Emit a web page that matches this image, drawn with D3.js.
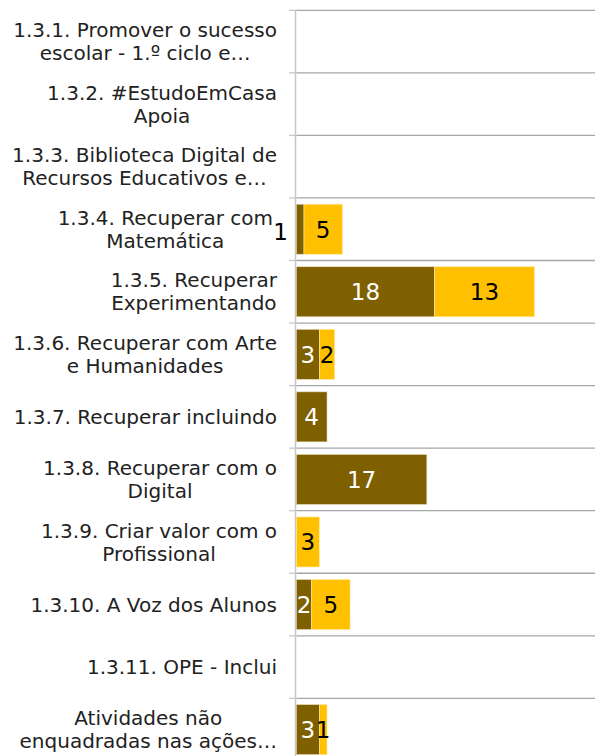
<!DOCTYPE html>
<html><head><meta charset="utf-8">
<script src="https://cdn.jsdelivr.net/npm/d3@7"></script>
<style>body{margin:0;background:#fff}svg{display:block}</style>
</head><body>
<script>
const categories = [
  "1.3.1. Promover o sucesso\nescolar - 1.º ciclo e…",
  "1.3.2. #EstudoEmCasa\nApoia",
  "1.3.3. Biblioteca Digital de\nRecursos Educativos e…",
  "1.3.4. Recuperar com\nMatemática",
  "1.3.5. Recuperar\nExperimentando",
  "1.3.6. Recuperar com Arte\ne Humanidades",
  "1.3.7. Recuperar incluindo",
  "1.3.8. Recuperar com o\nDigital",
  "1.3.9. Criar valor com o\nProfissional",
  "1.3.10. A Voz dos Alunos",
  "1.3.11. OPE - Inclui",
  "Atividades não\nenquadradas nas ações…"
];
const seriesA = [0,0,0,1,18,3,4,17,0,2,0,3];
const seriesB = [0,0,0,5,13,2,0,0,3,5,0,1];
const xMax = 40;

(function(){
const W = 595, H = 756;
const svg = d3.select("body").append("svg").attr("width", W).attr("height", H);
const font = "'DejaVu Sans', sans-serif";

const x0 = 296.3, topY = 10.3, band = 62.55;
const x = d3.scaleLinear().domain([0, xMax]).range([x0, x0 + 7.68 * xMax]);
const y = d3.scaleBand().domain(d3.range(categories.length))
  .range([topY, topY + band * categories.length]).paddingInner(0.2).paddingOuter(0.1);

const seps = d3.range(categories.length + 1).map(i => topY + i * band);
svg.append("g").selectAll("line").data(seps).join("line")
  .attr("x1", x0).attr("x2", W).attr("y1", d => d).attr("y2", d => d)
  .attr("stroke", "#a6a6a6").attr("stroke-width", 1.3);
svg.append("g").selectAll("line").data(seps).join("line")
  .attr("x1", 289).attr("x2", x0).attr("y1", d => d).attr("y2", d => d)
  .attr("stroke", "#c8c8c8").attr("stroke-width", 1.3);
svg.append("line").attr("x1", x0 - 0.8).attr("x2", x0 - 0.8).attr("y1", topY).attr("y2", H)
  .attr("stroke", "#c8c8c8").attr("stroke-width", 1.6);

const stacked = categories.map((c, i) => ({i, a: seriesA[i], b: seriesB[i]}));
const g = svg.append("g");
const vfs = 23;
stacked.forEach(d => {
  const yy = y(d.i), h = y.bandwidth();
  if (d.a > 0) {
    g.append("rect").attr("x", x(0)).attr("y", yy).attr("width", x(d.a) - x(0)).attr("height", h)
      .attr("fill", "#7F6000").attr("stroke", "#e8dcc0").attr("stroke-width", 0.6);
  }
  if (d.b > 0) {
    g.append("rect").attr("x", x(d.a)).attr("y", yy).attr("width", x(d.a + d.b) - x(d.a)).attr("height", h)
      .attr("fill", "#FFC000").attr("stroke", "#ffe9a8").attr("stroke-width", 0.6);
  }
  const cy = yy + h / 2;
  if (d.a > 0) {
    const small = d.a < 2;
    g.append("text")
      .attr("x", small ? 288 : (x(0) + x(d.a)) / 2)
      .attr("y", cy + (small ? 2 : 0)).attr("dy", "0.36em")
      .attr("text-anchor", small ? "end" : "middle")
      .attr("font-family", font).attr("font-size", vfs)
      .attr("fill", small ? "#000" : "#fff").text(d.a);
  }
  if (d.b > 0) {
    g.append("text")
      .attr("x", (x(d.a) + x(d.a + d.b)) / 2)
      .attr("y", cy).attr("dy", "0.36em")
      .attr("text-anchor", "middle")
      .attr("font-family", font).attr("font-size", vfs)
      .attr("fill", "#000").text(d.b);
  }
});

const labelRight = 277, lh = 23;
categories.forEach((c, i) => {
  const lines = c.split("\n");
  const cy = topY + band * i + band / 2;
  const grp = svg.append("g");
  const ts = lines.map((l, k) => grp.append("text")
    .attr("y", cy + (k - (lines.length - 1) / 2) * lh).attr("dy", "0.36em")
    .attr("font-family", font).attr("font-size", 20).attr("fill", "#222")
    .attr("text-anchor", "middle").text(l));
  const maxW = d3.max(ts, t => t.node().getComputedTextLength());
  const right = (seriesA[i] > 0 && seriesA[i] < 2) ? labelRight - 4 : labelRight;
  ts.forEach(t => t.attr("x", right - maxW / 2));
});
})();
</script>
</body></html>
